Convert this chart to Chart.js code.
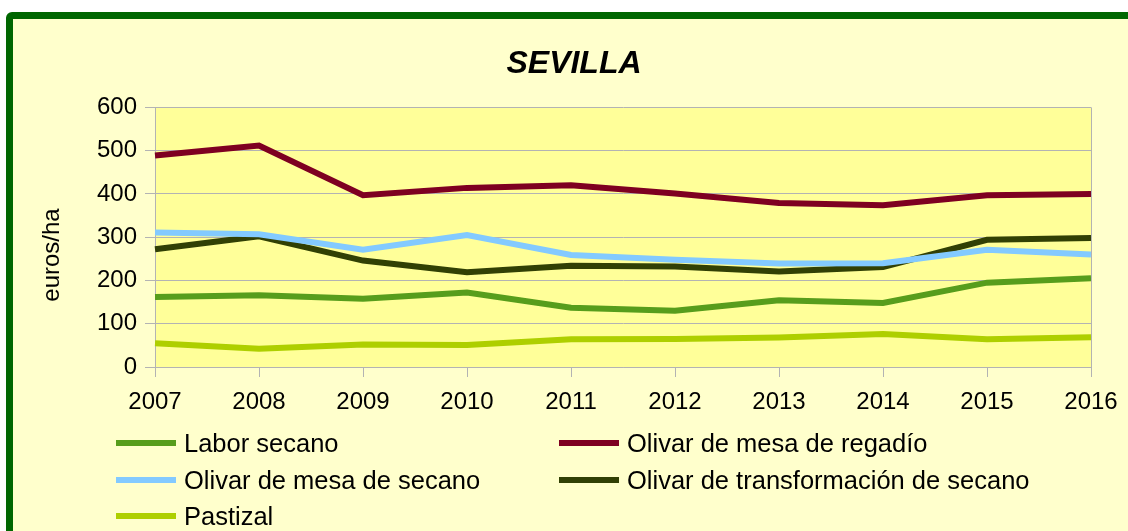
<!DOCTYPE html>
<html lang="es">
<head>
<meta charset="utf-8">
<title>SEVILLA</title>
<script src="https://cdn.jsdelivr.net/npm/chart.js@4.4.1/dist/chart.umd.min.js"></script>
<style>
  html, body { margin: 0; padding: 0; background: #ffffff; overflow: hidden; }
  body { width: 1128px; height: 531px; position: relative; font-family: "Liberation Sans", Arial, sans-serif; }
  .frame {
    position: absolute; left: 6px; top: 12px; width: 1140px; height: 540px;
    border: 7px solid #006600; border-radius: 6px; background: #ffffcc;
  }
  #chartWrap { position: absolute; left: 0; top: 0; width: 1148px; height: 531px; }
  .legend { position: absolute; left: 0; top: 0; font-size: 25.5px; color: #000; }
  .legend .item { position: absolute; white-space: nowrap; height: 30px; line-height: 30px; }
  .legend .swatch { position: absolute; top: 12px; height: 6px; }
  .legend .label { position: absolute; }
</style>
</head>
<body>
<div class="frame"></div>
<div id="chartWrap"><canvas id="sevillaChart" width="1148" height="531"></canvas></div>
<div class="legend" id="legend"></div>
<script>
(function () {
  'use strict';

  // ---------- Datos ----------
  const years = ['2007', '2008', '2009', '2010', '2011', '2012', '2013', '2014', '2015', '2016'];
  const laborSecano       = [162, 166, 158, 172, 137, 130, 154, 148, 195, 205];
  const mesaRegadio       = [489, 512, 397, 414, 420, 401, 379, 374, 397, 400];
  const mesaSecano        = [311, 307, 271, 305, 259, 248, 239, 240, 271, 260];
  const transformSecano   = [272, 302, 246, 219, 234, 232, 221, 231, 294, 298];
  const pastizal          = [55, 42, 52, 51, 64, 65, 68, 76, 64, 69];
  const yTicks = [0, 100, 200, 300, 400, 500, 600];

  // ---------- Paleta ----------
  const palette = {
    labor:     '#579d1c',
    regadio:   '#7e0021',
    mesa:      '#83caff',
    transf:    '#314004',
    pastizal:  '#aecf00',
    plot:      '#ffff99',
    grid:      '#b3b3b3',
    text:      '#000000'
  };
  const font = 'Liberation Sans, Arial, sans-serif';

  const series = [
    { label: 'Labor secano', data: laborSecano, color: palette.labor },
    { label: 'Olivar de mesa de regadío', data: mesaRegadio, color: palette.regadio },
    { label: 'Olivar de mesa de secano', data: mesaSecano, color: palette.mesa },
    { label: 'Olivar de transformación de secano', data: transformSecano, color: palette.transf },
    { label: 'Pastizal', data: pastizal, color: palette.pastizal }
  ];

  // fondo del área de trazado, borde derecho y título del eje Y
  const plotArea = {
    id: 'plotArea',
    beforeDraw(chart) {
      const { ctx, chartArea: a } = chart;
      ctx.save();
      ctx.fillStyle = palette.plot;
      ctx.fillRect(a.left, a.top, a.right - a.left, a.bottom - a.top);
      ctx.restore();
    },
    afterDatasetsDraw(chart) {
      const { ctx, chartArea: a } = chart;
      ctx.save();
      ctx.strokeStyle = palette.grid;
      ctx.lineWidth = 1;
      ctx.beginPath();
      ctx.moveTo(a.right + 0.5, a.top);
      ctx.lineTo(a.right + 0.5, a.bottom);
      ctx.stroke();
      // título del eje Y (algo por debajo del centro, como en el original)
      ctx.translate(52, 255);
      ctx.rotate(-Math.PI / 2);
      ctx.fillStyle = palette.text;
      ctx.font = '24px ' + font;
      ctx.textAlign = 'center';
      ctx.textBaseline = 'middle';
      ctx.fillText('euros/ha', 0, 0);
      ctx.restore();
    }
  };

  Chart.defaults.font.family = font;
  Chart.defaults.color = palette.text;

  const chart = new Chart(document.getElementById('sevillaChart'), {
    type: 'line',
    data: {
      labels: years,
      datasets: series.map(s => ({
        label: s.label,
        data: s.data,
        borderColor: s.color,
        backgroundColor: s.color,
        borderWidth: 6,
        pointRadius: 0,
        tension: 0
      }))
    },
    options: {
      responsive: false,
      animation: false,
      layout: { padding: { left: 0, right: 0, top: 0, bottom: 104 } },
      plugins: {
        legend: { display: false },
        tooltip: { enabled: false },
        title: {
          display: true,
          text: 'SEVILLA',
          color: palette.text,
          font: { size: 32, weight: 'bold', style: 'italic', family: font },
          padding: { top: 45, bottom: 24 }
        }
      },
      scales: {
        x: {
          offset: false,
          grid: { drawOnChartArea: false, color: palette.grid, tickLength: 10 },
          border: { color: palette.grid },
          ticks: { font: { size: 24 }, padding: 11, maxRotation: 0, autoSkip: false },
          afterFit(s) { s.height = 60; }
        },
        y: {
          min: 0, max: 600,
          afterBuildTicks(s) { s.ticks = yTicks.map(v => ({ value: v })); },
          grid: { color: palette.grid, tickLength: 10 },
          border: { color: palette.grid },
          ticks: { font: { size: 24 }, padding: 8 },
          afterFit(s) { s.width = 155; }
        },
        spacer: {
          type: 'linear', position: 'right', display: true,
          grid: { display: false }, border: { display: false },
          ticks: { display: false },
          afterFit(s) { s.width = 57; }
        }
      }
    },
    plugins: [plotArea]
  });

  // ---------- Leyenda (2 columnas) ----------
  const legendPos = [
    { x: 116, y: 428, w: 60, tx: 184 },
    { x: 559, y: 428, w: 60, tx: 627 },
    { x: 116, y: 465, w: 60, tx: 184 },
    { x: 559, y: 465, w: 60, tx: 627 },
    { x: 116, y: 501, w: 60, tx: 184 }
  ];
  const legend = document.getElementById('legend');
  chart.data.datasets.forEach((ds, i) => {
    const p = legendPos[i];
    const item = document.createElement('div');
    item.className = 'item';
    item.style.top = p.y + 'px';
    item.style.left = '0px';
    const sw = document.createElement('span');
    sw.className = 'swatch';
    sw.style.left = p.x + 'px';
    sw.style.width = p.w + 'px';
    sw.style.background = ds.borderColor;
    const lb = document.createElement('span');
    lb.className = 'label';
    lb.style.left = p.tx + 'px';
    lb.textContent = ds.label;
    item.appendChild(sw);
    item.appendChild(lb);
    legend.appendChild(item);
  });
})();
</script>
</body>
</html>
